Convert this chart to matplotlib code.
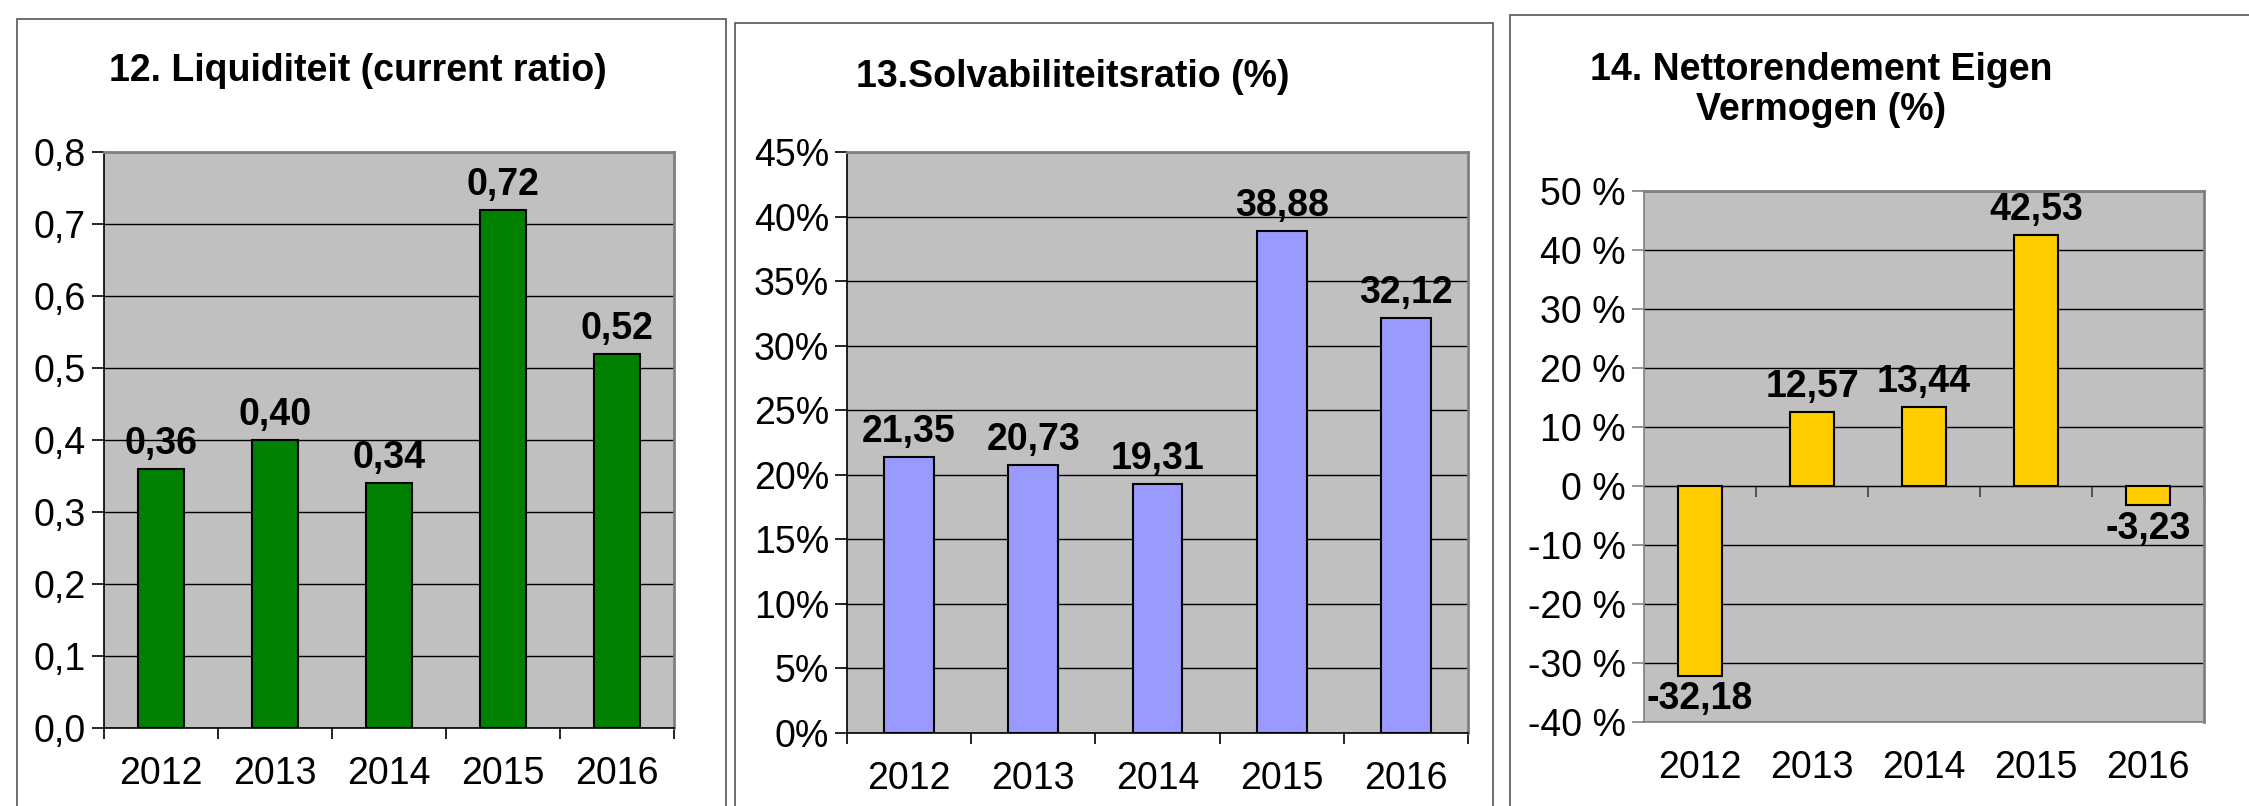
import matplotlib.pyplot as plt
from matplotlib.patches import Rectangle
from matplotlib.ticker import FuncFormatter

years = ['2012', '2013', '2014', '2015', '2016']
liquiditeit = [0.36, 0.40, 0.34, 0.72, 0.52]
solvabiliteit = [21.35, 20.73, 19.31, 38.88, 32.12]
rendement = [-32.18, 12.57, 13.44, 42.53, -3.23]

W, H = 2249, 806
FS = 27
plt.rcParams['font.family'] = ['Liberation Sans', 'DejaVu Sans']


def px_axes(fig, left, top, right, bottom):
    return fig.add_axes([left / W, 1 - bottom / H, (right - left) / W, (bottom - top) / H])


def frame(fig, left, top, right, bottom):
    fig.add_artist(Rectangle((left / W, 1 - bottom / H), (right - left) / W, (bottom - top) / H,
                             transform=fig.transFigure, fill=False, edgecolor='#555555', lw=1.2))


def comma(v, dec):
    return f'{v:.{dec}f}'.replace('.', ',')


def style(ax, ymin, ymax, step, fmt, spine_col='black'):
    ax.set_facecolor('#C0C0C0')
    ax.set_ylim(ymin, ymax)
    n = int(round((ymax - ymin) / step))
    ax.set_yticks([ymin + i * step for i in range(n + 1)])
    ax.yaxis.set_major_formatter(FuncFormatter(fmt))
    ax.grid(axis='y', color='black', lw=1.0)
    ax.set_axisbelow(True)
    ax.set_xlim(-0.5, 4.5)
    ax.set_xticks(range(5))
    ax.set_xticklabels(years)
    ax.set_xticks([i - 0.5 for i in range(6)], minor=True)
    ax.tick_params(axis='x', which='major', length=0, labelsize=FS, pad=20)
    ax.tick_params(axis='x', which='minor', length=8, width=1.2, color=spine_col)
    ax.tick_params(axis='y', length=9, width=1.2, labelsize=FS, pad=4, color=spine_col)
    for s in ['top', 'right']:
        ax.spines[s].set_color('#808080')
        ax.spines[s].set_linewidth(2)
    ax.spines['left'].set_color(spine_col)
    ax.spines['bottom'].set_color(spine_col)
    ax.spines['left'].set_linewidth(1.2)
    ax.spines['bottom'].set_linewidth(1.2)


def label_bars(ax, values):
    for i, v in enumerate(values):
        if v >= 0:
            ax.annotate(comma(v, 2), (i, v), xytext=(0, 5), textcoords='offset points',
                        ha='center', va='bottom', fontsize=FS, fontweight='bold')
        else:
            ax.annotate(comma(v, 2), (i, v), xytext=(0, -4), textcoords='offset points',
                        ha='center', va='top', fontsize=FS, fontweight='bold')


fig = plt.figure(figsize=(W / 100, H / 100), dpi=100)

frame(fig, 17, 19, 726, 840)
frame(fig, 735, 23, 1493, 840)
frame(fig, 1510, 15, 2280, 840)

# 12. Liquiditeit
ax1 = px_axes(fig, 104, 152, 674, 728)
style(ax1, 0, 0.8, 0.1, lambda v, p: comma(v, 1))
ax1.bar(range(5), liquiditeit, width=0.4, color='#008000', edgecolor='black', lw=1.5)
label_bars(ax1, liquiditeit)
fig.text(358 / W, 1 - 71 / H, '12. Liquiditeit (current ratio)', ha='center', va='center',
         fontsize=FS, fontweight='bold')

# 13. Solvabiliteitsratio
ax2 = px_axes(fig, 847, 152, 1468, 733)
style(ax2, 0, 45, 5, lambda v, p: f'{v:.0f}%')
ax2.bar(range(5), solvabiliteit, width=0.4, color='#9999FF', edgecolor='black', lw=1.5)
label_bars(ax2, solvabiliteit)
fig.text(1073 / W, 1 - 77 / H, '13.Solvabiliteitsratio (%)', ha='center', va='center',
         fontsize=FS, fontweight='bold')

# 14. Nettorendement Eigen Vermogen
ax3 = px_axes(fig, 1644, 191, 2204, 722)
style(ax3, -40, 50, 10, lambda v, p: f'{v:.0f} %', spine_col='#808080')
ax3.tick_params(axis='x', which='minor', length=0)
ax3.bar(range(5), rendement, width=0.4, color='#FFCC00', edgecolor='black', lw=1.5)
label_bars(ax3, rendement)
zero = ax3.secondary_xaxis(40 / 90)
zero.set_xticks([i - 0.5 for i in range(1, 6)])
zero.set_xticklabels([])
zero.tick_params(length=8, width=1.2, color='#404040')
zero.spines['bottom'].set_color('black')
fig.text(1821 / W, 1 - 90 / H, '14. Nettorendement Eigen\nVermogen (%)', ha='center', va='center',
         fontsize=FS, fontweight='bold', linespacing=1.15)

fig.savefig('out.png', dpi=100)
